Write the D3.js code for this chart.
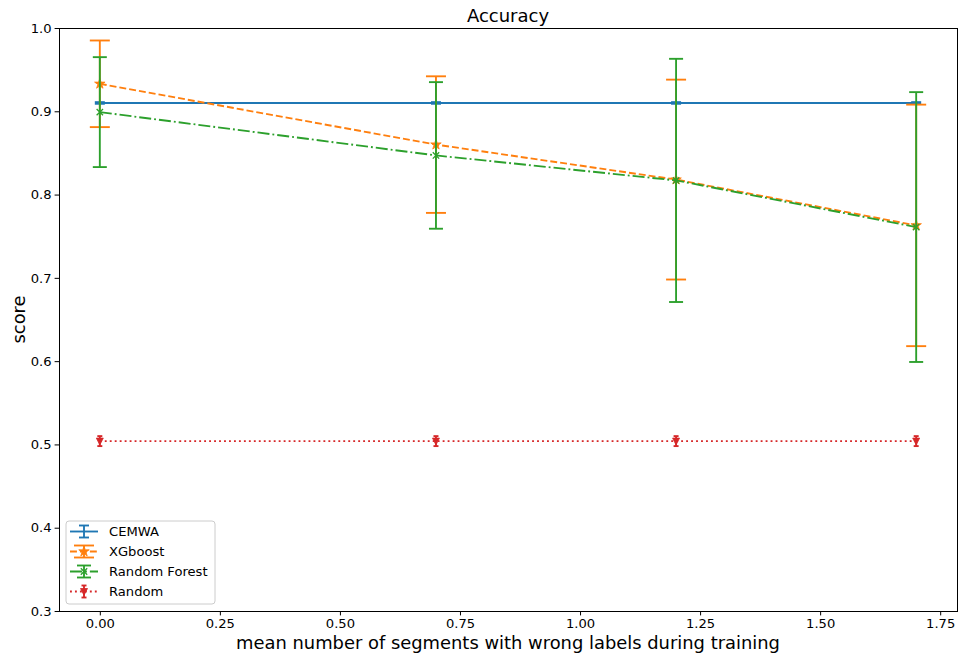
<!DOCTYPE html>
<html>
<head>
<meta charset="utf-8">
<script src="https://cdn.jsdelivr.net/npm/d3@7"></script>
<style>
  body { margin: 0; background: #fff; }
  text { font-family: "DejaVu Sans", sans-serif; fill: #000; }
</style>
</head>
<body>
<div id="chart"></div>
<script>
// mean number of segments with wrong labels during training
const xs = [0.0, 0.7, 1.2, 1.7];

const cemwaMean = [0.910, 0.910, 0.910, 0.910];
const cemwaErr  = [0.001, 0.001, 0.001, 0.001];

const xgbMean = [0.933, 0.860, 0.818, 0.763];
const xgbErr  = [0.052, 0.082, 0.120, 0.145];

const rfMean = [0.899, 0.847, 0.817, 0.761];
const rfErr  = [0.066, 0.088, 0.146, 0.162];

const randMean = [0.504, 0.504, 0.504, 0.504];
const randErr  = [0.006, 0.006, 0.006, 0.006];

const xTicks = [0, 0.25, 0.5, 0.75, 1.0, 1.25, 1.5, 1.75];
const yTicks = [0.3, 0.4, 0.5, 0.6, 0.7, 0.8, 0.9, 1.0];

const lw = 1.875;
const series = [
  {name: "CEMWA", mean: cemwaMean, err: cemwaErr, color: "#1f77b4", dash: null, marker: null, cap: 5},
  {name: "XGboost", mean: xgbMean, err: xgbErr, color: "#ff7f0e", dash: [3.7 * lw, 1.6 * lw], marker: "star", cap: 10},
  {name: "Random Forest", mean: rfMean, err: rfErr, color: "#2ca02c", dash: [6.4 * lw, 1.6 * lw, 1 * lw, 1.6 * lw], marker: "x", cap: 7},
  {name: "Random", mean: randMean, err: randErr, color: "#d62728", dash: [1 * lw, 1.65 * lw], marker: "tri", cap: 2.5}
];

let margin = {top: 28, left: 59, right: 2, bottom: 44},
  width = 959 - margin.left - margin.right,
  height = 655 - margin.top - margin.bottom;

const svg = d3.select("#chart").append("svg")
  .attr("width", 959).attr("height", 655);

const g = svg.append("g")
  .attr("transform", "translate(" + margin.left + "," + margin.top + ")");

const xScale = d3.scaleLinear().domain([-0.085, 1.785]).range([0, width]);
const yScale = d3.scaleLinear().domain([0.3, 1.0]).range([height, 0]);

function drawMarker(sel, type, color) {
  if (type === "star") {
    sel.append("path")
      .attr("d", d3.symbol().type(d3.symbolStar).size(34)())
      .attr("fill", color).attr("stroke", color).attr("stroke-width", 0.8);
  } else if (type === "x") {
    sel.append("path")
      .attr("d", "M-3.2,-3.2L3.2,3.2M-3.2,3.2L3.2,-3.2")
      .attr("fill", "none").attr("stroke", color).attr("stroke-width", 1.3);
  } else if (type === "tri") {
    sel.append("path")
      .attr("d", "M-3.5,-3L3.5,-3L0,3.8Z")
      .attr("fill", color).attr("stroke", color).attr("stroke-width", 0.8);
  }
}

// lines, error bars and markers
series.forEach(s => {
  const pts = xs.map((x, i) => ({x: x, m: s.mean[i], e: s.err[i]}));
  const grp = g.append("g");

  grp.append("path")
    .datum(pts)
    .attr("fill", "none")
    .attr("stroke", s.color)
    .attr("stroke-width", lw)
    .attr("stroke-dasharray", s.dash ? s.dash.join(",") : null)
    .attr("d", d3.line().x(d => xScale(d.x)).y(d => yScale(d.m)));

  const eb = grp.selectAll(".eb").data(pts).enter().append("g")
    .attr("stroke", s.color).attr("stroke-width", lw);
  eb.append("line")
    .attr("x1", d => xScale(d.x)).attr("x2", d => xScale(d.x))
    .attr("y1", d => yScale(d.m - d.e)).attr("y2", d => yScale(d.m + d.e));
  eb.append("line")
    .attr("x1", d => xScale(d.x) - s.cap).attr("x2", d => xScale(d.x) + s.cap)
    .attr("y1", d => yScale(d.m + d.e)).attr("y2", d => yScale(d.m + d.e));
  eb.append("line")
    .attr("x1", d => xScale(d.x) - s.cap).attr("x2", d => xScale(d.x) + s.cap)
    .attr("y1", d => yScale(d.m - d.e)).attr("y2", d => yScale(d.m - d.e));

  pts.forEach(d => {
    const mk = grp.append("g")
      .attr("transform", "translate(" + xScale(d.x) + "," + yScale(d.m) + ")");
    drawMarker(mk, s.marker, s.color);
  });
});

// axes
const xAxis = g.append("g")
  .attr("transform", "translate(0," + height + ")")
  .call(d3.axisBottom(xScale).tickValues(xTicks).tickFormat(d3.format(".2f")).tickSizeOuter(0).tickSize(4.4));
const yAxis = g.append("g")
  .call(d3.axisLeft(yScale).tickValues(yTicks).tickFormat(d3.format(".1f")).tickSizeOuter(0).tickSize(4.4));

[xAxis, yAxis].forEach(a => {
  a.selectAll(".domain").remove();
  a.selectAll(".tick line").attr("stroke", "#000").attr("stroke-width", 1);
  a.selectAll(".tick text")
    .style("font-family", "DejaVu Sans")
    .style("font-size", "13.1px")
    .attr("fill", "#000");
});
xAxis.selectAll(".tick text").attr("dy", "0.71em").attr("y", 8);
yAxis.selectAll(".tick text").attr("x", -7.5);

// frame
g.append("rect")
  .attr("x", 0).attr("y", 0).attr("width", width).attr("height", height)
  .attr("fill", "none").attr("stroke", "#000").attr("stroke-width", 1)
  .attr("shape-rendering", "crispEdges");

// title and labels
svg.append("text")
  .attr("x", margin.left + width / 2).attr("y", 22)
  .attr("text-anchor", "middle")
  .style("font-size", "18px")
  .text("Accuracy");

svg.append("text")
  .attr("x", margin.left + width / 2).attr("y", 649)
  .attr("text-anchor", "middle")
  .style("font-size", "17.9px")
  .text("mean number of segments with wrong labels during training");

svg.append("text")
  .attr("transform", "translate(25," + (margin.top + height / 2) + ") rotate(-90)")
  .attr("text-anchor", "middle")
  .style("font-size", "17.9px")
  .text("score");

// legend
const legend = g.append("g").attr("transform", "translate(7," + (height - 90) + ")");
legend.append("rect")
  .attr("x", 0).attr("y", 0).attr("width", 149).attr("height", 83)
  .attr("rx", 3)
  .attr("fill", "#fff").attr("fill-opacity", 0.8)
  .attr("stroke", "#ccc").attr("stroke-width", 1);

series.forEach((s, i) => {
  const row = legend.append("g").attr("transform", "translate(0," + (10.5 + i * 20) + ")");
  row.append("line")
    .attr("x1", 4).attr("x2", 32).attr("y1", 0).attr("y2", 0)
    .attr("stroke", s.color).attr("stroke-width", lw)
    .attr("stroke-dasharray", s.dash ? s.dash.join(",") : null);
  row.append("line")
    .attr("x1", 18).attr("x2", 18).attr("y1", -6).attr("y2", 6)
    .attr("stroke", s.color).attr("stroke-width", lw);
  [-6, 6].forEach(yy => {
    row.append("line")
      .attr("x1", 18 - s.cap).attr("x2", 18 + s.cap).attr("y1", yy).attr("y2", yy)
      .attr("stroke", s.color).attr("stroke-width", lw);
  });
  const mk = row.append("g").attr("transform", "translate(18,0)");
  drawMarker(mk, s.marker, s.color);
  row.append("text")
    .attr("x", 43).attr("y", 0).attr("dy", "0.35em")
    .style("font-size", "13.1px")
    .text(s.name);
});
</script>
</body>
</html>
